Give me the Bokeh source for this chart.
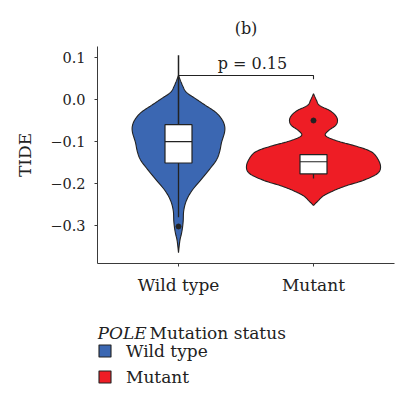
from bokeh.plotting import figure
from bokeh.layouts import column
from bokeh.models import Range1d, FixedTicker, Label, Legend, LegendItem
from bokeh.core.properties import value
from bokeh.embed import file_html
from bokeh.resources import INLINE
import numpy as np

# Groups
groups = ["Wild type", "Mutant"]
positions = [1, 2]
fills = ["#3B67B2", "#EE1D25"]

# Violin outlines: TIDE value and kernel-density half width (x units)
wt_vals = [0.057, 0.033, 0.017, 0.002, -0.014, -0.030, -0.046, -0.062, -0.078,
           -0.102, -0.125, -0.145, -0.169, -0.193, -0.217, -0.240, -0.264,
           -0.288, -0.304, -0.319, -0.336, -0.364]
wt_dens = [0.0, 0.030, 0.059, 0.126, 0.200, 0.274, 0.319, 0.341, 0.341,
           0.319, 0.304, 0.279, 0.222, 0.161, 0.099, 0.059, 0.039,
           0.035, 0.030, 0.022, 0.010, 0.0]

mu_vals = [0.014, -0.002, -0.014, -0.026, -0.038, -0.050, -0.062, -0.074,
           -0.086, -0.098, -0.110, -0.121, -0.133, -0.157, -0.176, -0.193,
           -0.205, -0.217, -0.229, -0.240, -0.252]
mu_dens = [0.0, 0.022, 0.044, 0.119, 0.163, 0.178, 0.163, 0.111,
           0.089, 0.170, 0.304, 0.407, 0.459, 0.496, 0.474, 0.363,
           0.244, 0.148, 0.074, 0.037, 0.0]

# Box plot statistics per group
q1 = [-0.151, -0.177]
median = [-0.100, -0.148]
q3 = [-0.060, -0.131]
whisker_low = [-0.280, -0.188]
whisker_high = [0.105, -0.131]
outliers_x = [1, 2]
outliers_y = [-0.302, -0.050]

p_text = "p = 0.15"
bracket_y = 0.057
bracket_tip = 0.048

y_ticks = [0.1, 0.0, -0.1, -0.2, -0.3]
y_labels = {0.1: "0.1", 0.0: "0.0", -0.1: "\u22120.1", -0.2: "\u22120.2", -0.3: "\u22120.3"}

FONT = "DejaVu Serif"
INK = "#222222"
AXIS = "#3a3a3a"


def smooth(vals, dens, n=8):
    """Catmull-Rom pass through the outline points for a rounded contour."""
    pts = np.column_stack([vals, dens])
    pts = np.vstack([pts[0], pts, pts[-1]])
    out = []
    for i in range(1, len(pts) - 2):
        p0, p1, p2, p3 = pts[i - 1], pts[i], pts[i + 1], pts[i + 2]
        for t in np.linspace(0, 1, n, endpoint=False):
            t2, t3 = t * t, t * t * t
            out.append(0.5 * ((2 * p1) + (-p0 + p2) * t +
                              (2 * p0 - 5 * p1 + 4 * p2 - p3) * t2 +
                              (-p0 + 3 * p1 - 3 * p2 + p3) * t3))
    out.append(pts[-2])
    out = np.array(out)
    return out[:, 0], np.clip(out[:, 1], 0, None)


p = figure(width=398, height=300,
           x_range=Range1d(0.4, 2.6), y_range=Range1d(-0.390, 0.126),
           output_backend="svg", toolbar_location=None,
           min_border_left=97, min_border_right=4,
           min_border_top=46, min_border_bottom=37)
p.outline_line_color = None
p.xgrid.visible = False
p.ygrid.visible = False
p.background_fill_color = "white"
p.border_fill_color = "white"

# Panel title
p.title.text = "(b)"
p.title.align = "center"
p.title.offset = -42
p.title.standoff = 17
p.title.text_font = FONT
p.title.text_font_size = "16px"
p.title.text_font_style = "normal"
p.title.text_color = INK

for pos, vals, dens, col in [(positions[0], wt_vals, wt_dens, fills[0]),
                             (positions[1], mu_vals, mu_dens, fills[1])]:
    v, d = smooth(vals, dens)
    xs = np.concatenate([pos + d, (pos - d)[::-1]])
    ys = np.concatenate([v, v[::-1]])
    p.patch(xs, ys, fill_color=col, line_color=INK, line_width=1.1)

# Whiskers
p.segment(x0=positions, y0=q3, x1=positions, y1=whisker_high, line_color=INK, line_width=1.5)
p.segment(x0=positions, y0=q1, x1=positions, y1=whisker_low, line_color=INK, line_width=1.3)

# Boxes and medians
box_w = 0.2
box_left = [x - box_w / 2 for x in positions]
box_right = [x + box_w / 2 for x in positions]
p.quad(left=box_left, right=box_right, bottom=q1, top=q3,
       fill_color="white", line_color=INK, line_width=1.2)
p.segment(x0=box_left, y0=median, x1=box_right, y1=median, line_color=INK, line_width=1.2)

# Outliers
p.scatter(outliers_x, outliers_y, size=5, color=INK)

# Significance bracket
p.line([positions[0], positions[1], positions[1]], [bracket_y, bracket_y, bracket_tip],
       line_color=INK, line_width=1.1)
p.text(x=[1.548], y=[0.086], text=[p_text], text_font=value(FONT),
       text_font_size="16px", text_align="center", text_baseline="alphabetic",
       text_color=INK)

# Axes
p.xaxis.ticker = FixedTicker(ticks=positions)
p.xaxis.major_label_overrides = {pos: g for pos, g in zip(positions, groups)}
p.yaxis.ticker = FixedTicker(ticks=y_ticks)
p.yaxis.major_label_overrides = y_labels
p.yaxis.axis_label = "TIDE"
for ax in (p.xaxis[0], p.yaxis[0]):
    ax.axis_line_color = AXIS
    ax.axis_line_width = 1
    ax.major_tick_line_color = AXIS
    ax.major_tick_out = 3
    ax.major_tick_in = 0
    ax.minor_tick_line_color = None
    ax.major_label_text_font = FONT
    ax.major_label_text_color = INK
p.xaxis.major_label_text_font_size = "17px"
p.xaxis.major_label_standoff = 8
p.yaxis.major_label_text_font_size = "14.5px"
p.yaxis.major_label_standoff = 9
p.yaxis.axis_label_text_font = FONT
p.yaxis.axis_label_text_font_size = "17px"
p.yaxis.axis_label_text_font_style = "normal"
p.yaxis.axis_label_text_color = INK
p.yaxis.axis_label_standoff = 12

# Legend strip underneath the plot (its frame lines up with the plot frame)
leg = figure(width=398, height=95, x_range=Range1d(10, 11), y_range=Range1d(10, 11),
             output_backend="svg", toolbar_location=None,
             x_axis_location=None, y_axis_location=None,
             min_border=0)
leg.outline_line_color = None
leg.xgrid.visible = False
leg.ygrid.visible = False
leg.border_fill_color = "white"

# Key swatches take their style from the group boxes (kept outside the strip's view)
keys = [leg.quad(left=[l], right=[r], bottom=[b], top=[t], fill_color=col,
                 line_color=INK, line_width=1.1)
        for l, r, b, t, col in zip(box_left, box_right, q1, q3, fills)]

leg.add_layout(Label(x=0, y=63, x_units="screen", y_units="screen", text="POLE",
                     text_font=FONT, text_font_size="17px", text_font_style="italic",
                     text_baseline="alphabetic", text_color=INK))
leg.add_layout(Label(x=52, y=63, x_units="screen", y_units="screen",
                     text="Mutation status", text_font=FONT, text_font_size="17px",
                     text_baseline="alphabetic", text_color=INK))

legend = Legend(items=[LegendItem(label=g, renderers=[r]) for g, r in zip(groups, keys)],
                location=(0, 8.5), padding=0, margin=0, spacing=6,
                glyph_width=15, glyph_height=15, label_height=20, label_standoff=14,
                label_text_font=FONT, label_text_font_size="17px", label_text_color=INK,
                border_line_color=None, background_fill_alpha=0)
leg.add_layout(legend, "center")

page = column(p, leg, spacing=0)
open("out.html", "w").write(file_html(page, INLINE))
